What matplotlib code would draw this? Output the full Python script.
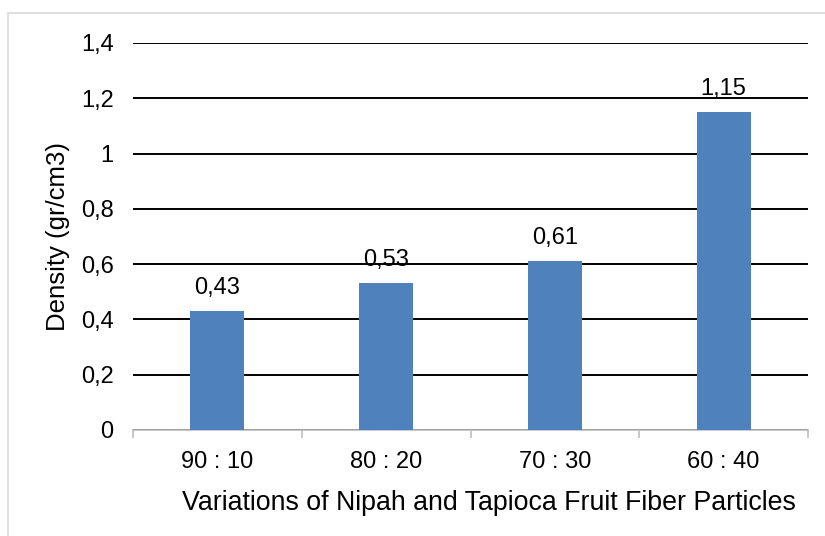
import matplotlib
matplotlib.use("Agg")
import matplotlib.pyplot as plt
from matplotlib.patches import Rectangle

categories = ["90 : 10", "80 : 20", "70 : 30", "60 : 40"]
density = [0.43, 0.53, 0.61, 1.15]
yticks = [0, 0.2, 0.4, 0.6, 0.8, 1.0, 1.2, 1.4]

plt.rcParams['font.family'] = ['Liberation Sans', 'DejaVu Sans']

fig = plt.figure(figsize=(8.25, 5.36), dpi=100)
ax = fig.add_axes([133/825, 1-430/536, 675/825, 387/536])

x = list(range(len(categories)))
ax.bar(x, density, width=0.32, color="#4F81BD", zorder=3)

ax.set_xlim(-0.5, len(categories)-0.5)
ax.set_ylim(0, 1.4)
ax.set_yticks(yticks)
ax.set_yticklabels([("%g" % v).replace(".", ",") for v in yticks], fontsize=17)
ax.yaxis.grid(True, color="black", linewidth=1.4, zorder=0)
ax.tick_params(axis="y", length=0, pad=14)

ax.set_xticks(x)
ax.set_xticklabels(categories, fontsize=17)
ax.set_xticks([i - 0.5 for i in range(len(categories)+1)], minor=True)
ax.tick_params(axis="x", which="major", length=0, pad=15)
ax.tick_params(axis="x", which="minor", length=6, color="#BFBFBF", width=1.2)

for s in ["top", "right", "left"]:
    ax.spines[s].set_visible(False)
ax.spines["bottom"].set_color("#BFBFBF")
ax.spines["bottom"].set_linewidth(1.2)

for xi, v in zip(x, density):
    ax.annotate(("%g" % v).replace(".", ","), (xi, v), xytext=(0, 9),
                textcoords="offset points", ha="center", va="bottom", fontsize=17)

ax.set_ylabel("Density (gr/cm3)", fontsize=18.5, labelpad=8)
ax.set_xlabel("Variations of Nipah and Tapioca Fruit Fiber Particles", fontsize=19.3, labelpad=9)
ax.xaxis.set_label_coords(0.527, -0.155)

fig.patches.append(Rectangle((8/825, -0.1), 1.2, 1 - 13/536 + 0.1, transform=fig.transFigure,
                             fill=False, edgecolor="#D9D9D9", linewidth=1.2))

fig.savefig("out.png", dpi=100)
